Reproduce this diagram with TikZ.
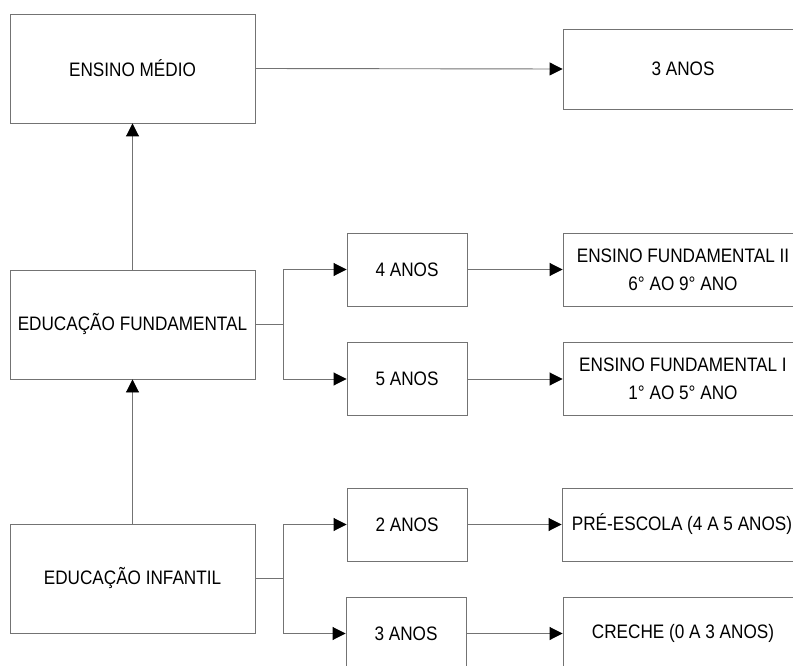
\documentclass[tikz,border=0pt]{standalone}
\usepackage{fontspec}
\setmainfont{Liberation Sans}[FakeStretch=0.88]
\usetikzlibrary{arrows.meta}
\begin{document}
\begin{tikzpicture}[x=1pt,y=-1pt,
  box/.style={draw=black!55,line width=0.9pt,fill=white,inner sep=0pt,align=center,
    font=\fontsize{19.5}{28}\selectfont,text=black},
  bigbox/.style={box,minimum width=245pt,minimum height=109pt},
  smallbox/.style={box,minimum width=120pt,minimum height=73pt},
  widebox/.style={box,minimum width=240pt,minimum height=73pt},
  conn/.style={draw=black!55,line width=0.9pt},
  arr/.style={conn,-{Triangle[length=13pt,width=13pt,color=black]}}]
\useasboundingbox (0,0) rectangle (793,666);
\clip (0,0) rectangle (793,666);
\fill[white] (0,0) rectangle (793,666);
% nodes
\node[bigbox] (med) at (132.5,68.5) {ENSINO MÉDIO};
\node[widebox,minimum height=80pt] (t3) at (683,69) {3 ANOS};
\node[bigbox] (ef) at (132.5,324.5) {EDUCAÇÃO FUNDAMENTAL};
\node[smallbox] (a4) at (407,269.5) {4 ANOS};
\node[smallbox] (a5) at (407,379) {5 ANOS};
\node[widebox] (f2) at (683,269.5) {ENSINO FUNDAMENTAL II\\6° AO 9° ANO};
\node[widebox] (f1) at (683,379) {ENSINO FUNDAMENTAL I\\1° AO 5° ANO};
\node[bigbox] (ei) at (132.5,578.5) {EDUCAÇÃO INFANTIL};
\node[smallbox] (a2) at (407,524.5) {2 ANOS};
\node[smallbox] (a3) at (406,633.5) {3 ANOS};
\node[widebox] (pre) at (682,524.5) {PRÉ-ESCOLA (4 A 5 ANOS)};
\node[widebox] (cre) at (683,633.5) {CRECHE (0 A 3 ANOS)};
% connectors
\draw[arr] (med.east) -- (t3.west);
\draw[arr] (ef.north) -- (med.south);
\draw[arr] (ei.north) -- (ef.south);
\coordinate (bf) at ([xshift=28pt]ef.east);
\draw[conn] (ef.east) -- (bf);
\draw[arr] (bf) |- (a4.west);
\draw[arr] (bf) |- (a5.west);
\coordinate (bi) at ([xshift=28pt]ei.east);
\draw[conn] (ei.east) -- (bi);
\draw[arr] (bi) |- (a2.west);
\draw[arr] (bi) |- (a3.west);
\draw[arr] (a4.east) -- (f2.west);
\draw[arr] (a5.east) -- (f1.west);
\draw[arr] (a2.east) -- (pre.west);
\draw[arr] (a3.east) -- (cre.west);
\end{tikzpicture}
\end{document}
